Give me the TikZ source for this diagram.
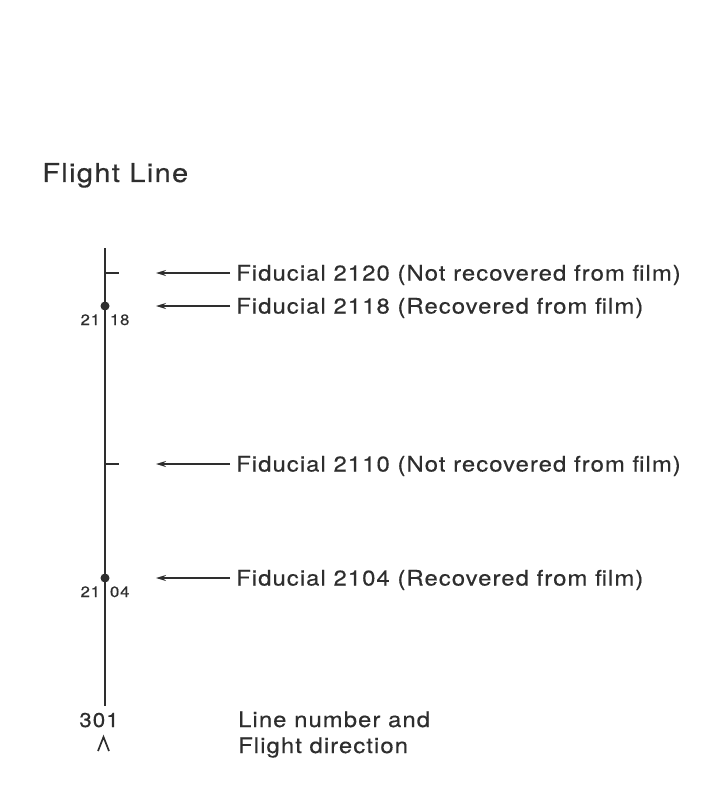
\documentclass[tikz,border=0pt]{standalone}
\usepackage{fontspec}
\setmainfont{TeX Gyre Heros}
\newfontfamily\widefont{TeX Gyre Heros}[LetterSpace=5, FakeStretch=1.12, FakeBold=0.4]
\usetikzlibrary{arrows.meta,calc}

\definecolor{ink}{HTML}{2E2E2E}

\begin{document}
\begin{tikzpicture}[
  x=1pt, y=-1pt,
  every node/.style={font=\widefont\fontsize{21.3}{26}\selectfont, text=ink},
  fline/.style={draw=ink, line width=1.8pt},
  tick/.style={draw=ink, line width=1.6pt},
  arr/.style={-{Stealth[length=10pt, width=6pt]}, draw=ink, line width=1.5pt},
  fid/.style={anchor=base west, inner sep=0pt},
  time/.style={font=\widefont\fontsize{15}{17}\selectfont, inner sep=0pt, anchor=base},
  title/.style={font=\widefont\fontsize{26}{30}\selectfont, anchor=base west, inner sep=0pt}
]
\useasboundingbox (0,0) rectangle (716,810);

\node[title] (head) at (42,182) {Flight Line};

% the flight line itself
\coordinate (top) at (105,248);
\coordinate (bot) at (105,706);
\draw[fline] (top) -- (bot);

% fiducials: y, number, recovered or not
\foreach \y/\n/\s in {273/2120/Not recovered from film,
                      306/2118/Recovered from film,
                      464/2110/Not recovered from film,
                      578/2104/Recovered from film} {
  \coordinate (M\n) at (105,\y);
  \coordinate (A\n) at (156,\y);
  \node[fid] (F\n) at (236,\y+7.5) {Fiducial \n\ (\s)};
  \draw[arr] (F\n.west |- M\n) ++(-6,0) coordinate (E\n) -- (A\n);
}

% not recovered: short tick
\foreach \n in {2120,2110}
  \draw[tick] (M\n) -- ++(14,0);
% recovered: dot and time label across the line
\foreach \n/\h/\m in {2118/21/18, 2104/21/04} {
  \fill[ink] (M\n) circle (4.5);
  \node[time] (T\n) at ($(M\n)+(0,19)$) {\h\hspace{10pt}\m};
}

% line number and direction
\node[font=\widefont\fontsize{20}{22}\selectfont, inner sep=0pt, anchor=base] (num) at (99,727) {301};
\coordinate (cl) at (98,751);
\coordinate (cr) at (109,751);
\coordinate (ct) at (103.5,737);
\draw[ink, line width=1.7pt] (cl) -- (ct) -- (cr);
\node[anchor=base west, align=left, inner sep=0pt] (key) at (238,753)
  {Line number and\\Flight direction};

\end{tikzpicture}
\end{document}
